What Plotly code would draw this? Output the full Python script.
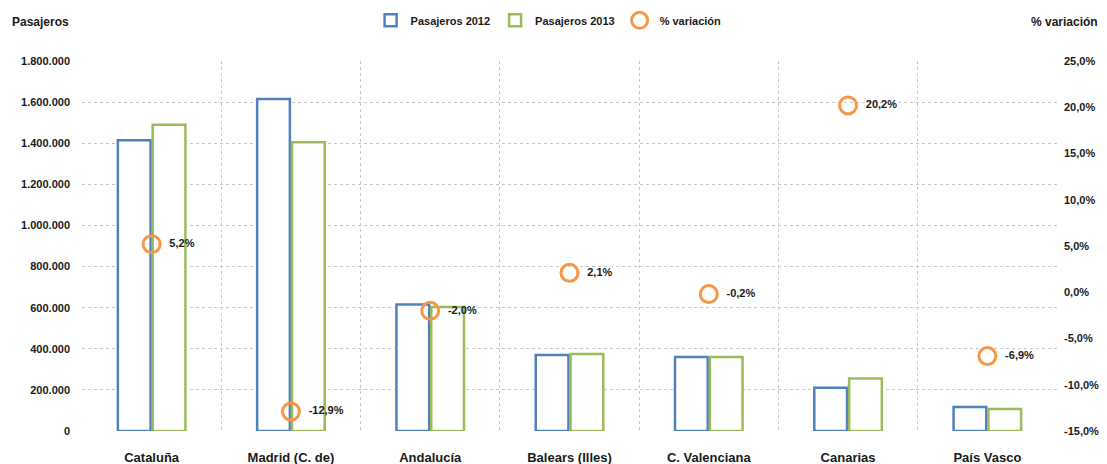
import plotly.graph_objects as go

comunidades = ["Cataluña", "Madrid (C. de)", "Andalucía", "Balears (Illes)",
               "C. Valenciana", "Canarias", "País Vasco"]
pasajeros_2012 = [1415000, 1615000, 615000, 370000, 360000, 210000, 117000]
pasajeros_2013 = [1490000, 1405000, 603000, 375000, 360000, 255000, 107000]
variacion = [5.2, -12.9, -2.0, 2.1, -0.2, 20.2, -6.9]
variacion_txt = ["5,2%", "-12,9%", "-2,0%", "2,1%", "-0,2%", "20,2%", "-6,9%"]
pct_ticks = [-15, -10, -5, 0, 5, 10, 15, 20, 25]
pct_labels = ["-15,0%", "-10,0%", "-5,0%", "0,0%", "5,0%", "10,0%",
              "15,0%", "20,0%", "25,0%"]

FONT = "Liberation Sans Narrow, Arial Narrow, Liberation Sans, sans-serif"
GRID = "#c8c8c8"

fig = go.Figure()
fig.add_trace(go.Bar(
    x=comunidades, y=pasajeros_2012, name="Pasajeros 2012",
    marker=dict(color="white", line=dict(color="#4F81BD", width=2.5))))
fig.add_trace(go.Bar(
    x=comunidades, y=pasajeros_2013, name="Pasajeros 2013",
    marker=dict(color="white", line=dict(color="#9BBB59", width=2.5))))
fig.add_trace(go.Scatter(
    x=comunidades, y=variacion, name="% variación", yaxis="y2",
    mode="markers+text", text=variacion_txt, texttemplate="  %{text}",
    textposition="middle right",
    textfont=dict(size=11, color="#1a1a1a", family=FONT, weight="bold"),
    marker=dict(symbol="circle-open", size=17, color="#F79646",
                line=dict(width=3, color="#F79646"))))

# the page body adds an 8px offset, so the figure is sized to the remaining area
fig.update_layout(
    width=1099, height=456,
    margin=dict(l=74, r=50, t=53, b=33, autoexpand=False),
    paper_bgcolor="white", plot_bgcolor="white",
    separators=",.",
    barmode="group", bargap=0.5, bargroupgap=0.06,
    font=dict(family=FONT, size=11, color="#1a1a1a", weight="bold"),
    legend=dict(orientation="h", x=0.296, xanchor="left", y=1.11,
                yanchor="middle", font=dict(size=11),
                itemwidth=30, traceorder="normal"),
    xaxis=dict(type="category", tickson="boundaries", showgrid=True,
               gridcolor=GRID, griddash="dot", gridwidth=1,
               ticks="", ticklabelstandoff=17, tickfont=dict(size=13)),
    yaxis=dict(range=[0, 1800000], dtick=200000, tickformat=",d",
               showgrid=True, gridcolor=GRID, griddash="dot",
               zeroline=False, ticks="", ticklabelstandoff=11),
    yaxis2=dict(overlaying="y", side="right", range=[-15, 25],
                tickvals=pct_ticks, ticktext=pct_labels, showgrid=False,
                zeroline=False, ticks="", ticklabelstandoff=6),
    annotations=[
        dict(text="Pasajeros", xref="paper", yref="paper", x=-0.074, y=1.105,
             xanchor="left", yanchor="middle", showarrow=False,
             font=dict(size=12)),
        dict(text="% variación", xref="paper", yref="paper", x=1.044, y=1.105,
             xanchor="right", yanchor="middle", showarrow=False,
             font=dict(size=12)),
    ],
)

fig.write_html("out.html")
